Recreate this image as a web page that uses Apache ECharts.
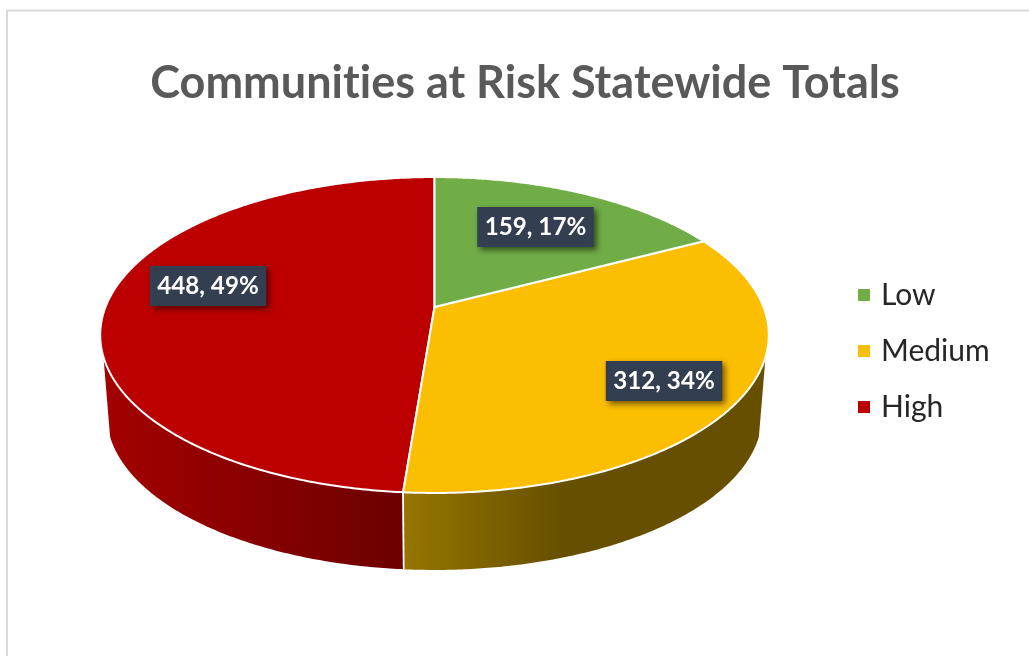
<!DOCTYPE html>
<html><head><meta charset="utf-8">
<style>html,body{margin:0;padding:0;background:#fff}#c{width:1029px;height:656px}</style>
<script src="https://cdn.jsdelivr.net/npm/echarts@6/dist/echarts.min.js"></script>
</head><body><div id="c"></div>
<script>
const categories = ['Low', 'Medium', 'High'];
const values = [159, 312, 448];
const topColors = ['#70AD47', '#FBBE00', '#BC0000'];
const titleText = 'Communities at Risk Statewide Totals';

// Projection of the tilted pie (perspective view of a disc) and layout, in pixels
const view = { cx: 434.5, k: 329, a: -98.6, b: 307, c: 0.1772, vanishY: 4343, bottomScale: 0.98,
               wallFrom: 108, wallTo: 252 };
const labelCenters = [[535.5, 227], [664, 381], [208, 286]];
const wallGradients = [
  null,
  { x1: 404, x2: 757, stops: [[0, '#967500'], [0.45, '#665000'], [1, '#665000']] },
  { x1: 108, x2: 404, stops: [[0, '#A30000'], [1, '#6C0000']] }
];

// Plain letter shapes: no "ti" ligature, as in the reference
const nativeGetContext = HTMLCanvasElement.prototype.getContext;
HTMLCanvasElement.prototype.getContext = function () {
  const ctx = nativeGetContext.apply(this, arguments);
  if (ctx && 'textRendering' in ctx) ctx.textRendering = 'optimizeSpeed';
  return ctx;
};

const total = values.reduce((s, v) => s + v, 0);
function rimTop(deg) {
  const t = deg * Math.PI / 180, u = Math.sin(t), v = Math.cos(t), w = 1 + view.c * v;
  return [view.cx + view.k * u / w, (view.a * v + view.b) / w];
}
function rimBottom(deg) {
  const p = rimTop(deg);
  return [view.cx + (p[0] - view.cx) * view.bottomScale,
          view.vanishY - (view.vanishY - p[1]) * view.bottomScale];
}
function arc(fn, from, to) {
  const pts = [], n = Math.max(2, Math.ceil((to - from) * 2));
  for (let j = 0; j <= n; j++) pts.push(fn(from + (to - from) * j / n));
  return pts;
}
function renderSlice(i) {
  return function () {
    const before = values.slice(0, i).reduce((s, v) => s + v, 0);
    const start = before / total * 360, end = (before + values[i]) / total * 360;
    const children = [];
    const wFrom = Math.max(start, view.wallFrom), wTo = Math.min(end, view.wallTo);
    if (wTo > wFrom && wallGradients[i]) {
      const g = wallGradients[i];
      const fill = new echarts.graphic.LinearGradient(g.x1, 0, g.x2, 0,
        g.stops.map(s => ({ offset: s[0], color: s[1] })), true);
      children.push({ type: 'polygon',
        shape: { points: arc(rimTop, wFrom, wTo).concat(arc(rimBottom, wFrom, wTo).reverse()) },
        style: { fill, stroke: null } });
      [start, end].forEach(d => {
        if (d >= view.wallFrom && d <= view.wallTo) {
          children.push({ type: 'polyline', shape: { points: [rimTop(d), rimBottom(d)] },
            style: { fill: null, stroke: '#fff', lineWidth: 1.6 } });
        }
      });
    }
    children.push({ type: 'polygon', shape: { points: [[view.cx, view.b]].concat(arc(rimTop, start, end)) },
      style: { fill: topColors[i], stroke: '#fff', lineWidth: 2, lineJoin: 'round' } });
    const lc = labelCenters[i], w = 116.5, h = 40;
    children.push({ type: 'rect', shape: { x: lc[0] - w / 2, y: lc[1] - h / 2, width: w, height: h },
      style: { fill: '#333F50', shadowBlur: 6, shadowColor: 'rgba(0,0,0,0.55)', shadowOffsetX: 3, shadowOffsetY: 3 } });
    children.push({ type: 'text', style: {
      text: values[i] + ', ' + Math.round(values[i] / total * 100) + '%',
      x: lc[0], y: lc[1], align: 'center', verticalAlign: 'middle', fill: '#fff',
      font: 'bold 24.2px Lato' } });
    return { type: 'group', children };
  };
}
const chart = echarts.init(document.getElementById('c'), null, { renderer: 'canvas' });
chart.setOption({
  animation: false,
  backgroundColor: '#fff',
  title: { text: titleText, left: 520, top: 78, textAlign: 'center', textVerticalAlign: 'middle',
    textStyle: { fontFamily: 'Lato', fontWeight: 'bold', fontSize: 45, color: '#595959' } },
  legend: { orient: 'vertical', left: 858, top: 278, padding: 0, itemWidth: 24, itemHeight: 12, itemGap: 22,
    icon: 'path://M0 0H10V10H0Z', symbolKeepAspect: true,
    data: categories, textStyle: { fontFamily: 'Lato', fontSize: 30, color: '#262626', lineHeight: 34 } },
  graphic: [
    { type: 'line', shape: { x1: 7, y1: 10.5, x2: 1029, y2: 10.5 }, style: { stroke: '#D9D9D9', lineWidth: 2 } },
    { type: 'line', shape: { x1: 7, y1: 10, x2: 7, y2: 656 }, style: { stroke: '#D9D9D9', lineWidth: 2 } }
  ],
  series: categories.map((name, i) => ({
    type: 'custom', name, coordinateSystem: 'none', z: 5 - i,
    itemStyle: { color: topColors[i] },
    data: [[values[i]]],
    renderItem: renderSlice(i)
  }))
});
</script></body></html>
